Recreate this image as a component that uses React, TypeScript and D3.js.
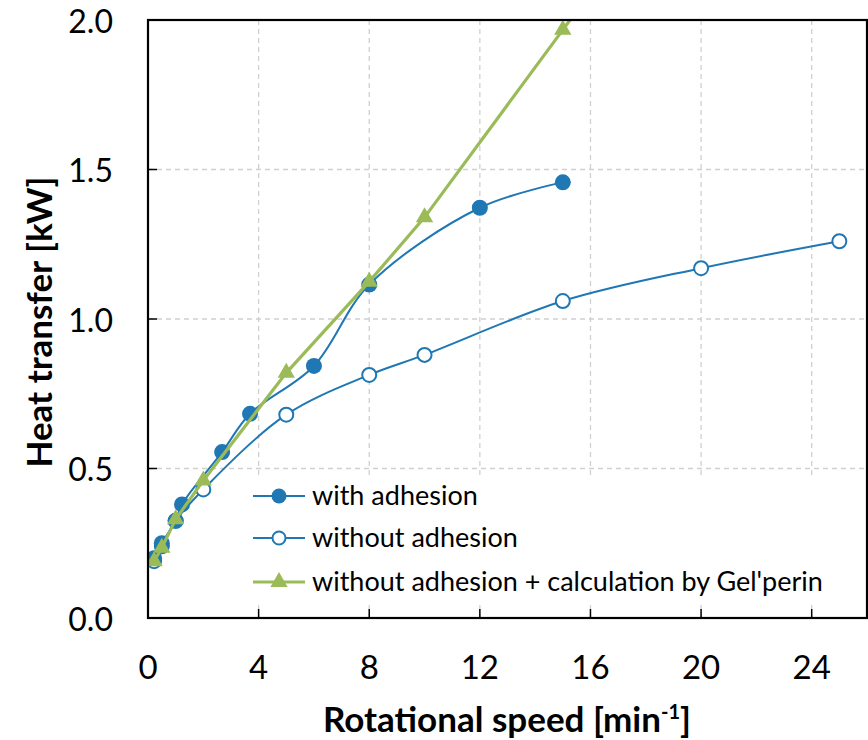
import React from "react";
import * as d3 from "d3";

const withX = [0.22, 0.5, 1.0, 1.23, 2.68, 3.69, 6.0, 8.0, 12.0, 15.0];
const withY = [0.2, 0.25, 0.325, 0.38, 0.555, 0.683, 0.843, 1.115, 1.372, 1.457];

const withoutX = [0.22, 0.5, 1.0, 2.0, 5.0, 8.0, 10.0, 15.0, 20.0, 25.0];
const withoutY = [0.19, 0.24, 0.325, 0.43, 0.68, 0.813, 0.88, 1.06, 1.17, 1.26];

const gelX = [0.22, 0.5, 1.0, 2.0, 5.0, 8.0, 10.0, 15.0, 20.0];
const gelY = [0.19, 0.235, 0.33, 0.46, 0.82, 1.125, 1.34, 1.967, 2.6];

const xTicks = [0, 4, 8, 12, 16, 20, 24];
const yTicks = [0, 0.5, 1.0, 1.5, 2.0];
const legendLabels = ["with adhesion", "without adhesion", "without adhesion + calculation by Gel'perin"];

const BLUE = "#1f77b4";
const GREEN = "#9bbb59";

export default function App() {
  const W = 868, H = 740;
  const left = 148, right = 867, top = 20, bottom = 618;
  const x = d3.scaleLinear().domain([0, 26]).range([left, right]);
  const y = d3.scaleLinear().domain([0, 2]).range([bottom, top]);
  const zip = (a: number[], b: number[]) => a.map((v, i) => [v, b[i]] as [number, number]);
  const smooth = d3.line<[number, number]>().x(d => x(d[0])).y(d => y(d[1])).curve(d3.curveCatmullRom.alpha(0.5));
  const straight = d3.line<[number, number]>().x(d => x(d[0])).y(d => y(d[1]));
  const withD = zip(withX, withY);
  const withoutD = zip(withoutX, withoutY);
  const gelD = zip(gelX, gelY);
  const tri = d3.symbol().type(d3.symbolTriangle).size(130)() as string;
  const legX = 253, legY = [496, 538, 582];
  const font = "Lato, 'Open Sans', sans-serif";

  return (
    <svg width={W} height={H} style={{ display: "block", position: "absolute", left: 0, top: 0 }}>
      <defs>
        <clipPath id="plotclip">
          <rect x={left} y={top} width={right - left} height={bottom - top} />
        </clipPath>
      </defs>
      <rect width={W} height={H} fill="#fff" />
      {xTicks.filter(t => t > 0).map(t => (
        <line key={"gx" + t} x1={x(t)} x2={x(t)} y1={top} y2={bottom} stroke="#d0d0d0" strokeWidth={1.3} strokeDasharray="5,4" />
      ))}
      {yTicks.filter(t => t > 0 && t < 2).map(t => (
        <line key={"gy" + t} x1={left} x2={right} y1={y(t)} y2={y(t)} stroke="#d0d0d0" strokeWidth={1.3} strokeDasharray="5,4" />
      ))}
      <rect x={245} y={477} width={600} height={124} fill="#fff" />
      <g clipPath="url(#plotclip)">
        <path d={smooth(withoutD) || ""} fill="none" stroke={BLUE} strokeWidth={2} />
        {withoutD.map((d, i) => (
          <circle key={"wo" + i} cx={x(d[0])} cy={y(d[1])} r={7} fill="#fff" stroke={BLUE} strokeWidth={2} />
        ))}
        <path d={smooth(withD) || ""} fill="none" stroke={BLUE} strokeWidth={2} />
        {withD.map((d, i) => (
          <circle key={"w" + i} cx={x(d[0])} cy={y(d[1])} r={8} fill={BLUE} />
        ))}
        <path d={straight(gelD) || ""} fill="none" stroke={GREEN} strokeWidth={3.2} />
        {gelD.map((d, i) => (
          <path key={"g" + i} d={tri} transform={`translate(${x(d[0])},${y(d[1])})`} fill={GREEN} />
        ))}
      </g>
      <rect x={left} y={top} width={right - left} height={bottom - top} fill="none" stroke="#000" strokeWidth={2.2} />
      {xTicks.map(t => (
        <g key={"xt" + t}>
          <line x1={x(t)} x2={x(t)} y1={bottom} y2={bottom - 9} stroke="#000" strokeWidth={1.5} />
          <text x={x(t)} y={679} textAnchor="middle" fontFamily={font} fontSize={33} fill="#000">{t}</text>
        </g>
      ))}
      {yTicks.map(t => (
        <g key={"yt" + t}>
          <line x1={left} x2={left + 9} y1={y(t)} y2={y(t)} stroke="#000" strokeWidth={1.5} />
          <text x={113} y={y(t) + 12.5} textAnchor="end" fontFamily={font} fontSize={32} fill="#000">{t.toFixed(1)}</text>
        </g>
      ))}
      <text x={507} y={732} textAnchor="middle" fontFamily={font} fontWeight="bold" fontSize={35} fill="#000">
        Rotational speed [min<tspan dy={-13} fontSize={20}>-1</tspan><tspan dy={13}>]</tspan>
      </text>
      <text transform={`translate(52,322) rotate(-90)`} textAnchor="middle" fontFamily={font} fontWeight="bold" fontSize={35} fill="#000">
        Heat transfer [kW]
      </text>
      {legendLabels.map((lab, i) => (
        <g key={"lg" + i}>
          <line x1={legX} x2={legX + 52} y1={legY[i]} y2={legY[i]} stroke={i === 2 ? GREEN : BLUE} strokeWidth={i === 2 ? 3.2 : 2} />
          {i === 0 && <circle cx={legX + 26} cy={legY[i]} r={7.5} fill={BLUE} />}
          {i === 1 && <circle cx={legX + 26} cy={legY[i]} r={6.5} fill="#fff" stroke={BLUE} strokeWidth={2} />}
          {i === 2 && <path d={tri} transform={`translate(${legX + 26},${legY[i]})`} fill={GREEN} />}
          <text x={legX + 59} y={legY[i] + 9} fontFamily={font} fontSize={27} fill="#000">{lab}</text>
        </g>
      ))}
    </svg>
  );
}
